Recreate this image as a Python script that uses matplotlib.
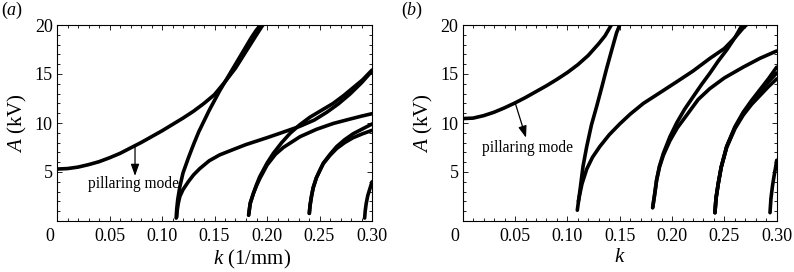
import matplotlib
matplotlib.use("Agg")
import matplotlib.pyplot as plt
import matplotlib.transforms as mt
from matplotlib.ticker import MultipleLocator, FixedLocator

plt.rcParams['font.family'] = ['Liberation Serif', 'DejaVu Serif']
plt.rcParams['mathtext.fontset'] = 'custom'
plt.rcParams['mathtext.rm'] = 'Liberation Serif'
plt.rcParams['mathtext.it'] = 'Liberation Serif:italic'

# ---------------- data: panel (a) ----------------
a_c1_k = [0, 0.01, 0.02, 0.03, 0.04, 0.05, 0.06, 0.07, 0.08, 0.09, 0.10, 0.11, 0.12, 0.13, 0.14, 0.15, 0.16, 0.17, 0.18, 0.19, 0.196]
a_c1_A = [5.3, 5.35, 5.5, 5.75, 6.05, 6.45, 6.9, 7.45, 8.0, 8.6, 9.2, 9.85, 10.5, 11.2, 12.0, 12.9, 14.2, 15.6, 17.3, 19.0, 20.0]
a_c2_k = [0.1135, 0.114, 0.115, 0.117, 0.12, 0.125, 0.13, 0.135, 0.14, 0.145, 0.15, 0.155, 0.16, 0.165, 0.17, 0.175, 0.18, 0.185, 0.19, 0.194]
a_c2_A = [0.3, 1.2, 2.2, 3.5, 4.9, 6.4, 7.8, 9.1, 10.2, 11.3, 12.3, 13.3, 14.2, 15.1, 16.0, 16.9, 17.8, 18.7, 19.5, 20.0]
a_c3_k = [0.114, 0.1145, 0.1155, 0.117, 0.12, 0.125, 0.13, 0.136, 0.145, 0.155, 0.168, 0.18, 0.2, 0.215, 0.231, 0.245, 0.257, 0.268, 0.279, 0.29, 0.3]
a_c3_A = [0.4, 1.1, 1.8, 2.5, 3.2, 4.0, 4.7, 5.35, 6.15, 6.75, 7.3, 7.8, 8.5, 9.05, 9.65, 10.3, 11.1, 11.95, 12.95, 14.1, 15.3]
a_c4a_k = [0.1825, 0.184, 0.187, 0.19, 0.193, 0.2, 0.206, 0.214, 0.222, 0.231, 0.241, 0.252, 0.263, 0.273, 0.282, 0.291, 0.3]
a_c4a_A = [0.6, 1.8, 2.8, 3.7, 4.5, 5.9, 6.9, 8.0, 8.95, 9.8, 10.6, 11.3, 12.0, 12.8, 13.6, 14.4, 15.4]
a_c4b_k = [0.1825, 0.184, 0.187, 0.19, 0.193, 0.2, 0.208, 0.2155, 0.2314, 0.247, 0.263, 0.279, 0.29, 0.3]
a_c4b_A = [0.6, 1.8, 2.8, 3.6, 4.3, 5.7, 6.8, 7.5, 8.6, 9.35, 9.95, 10.4, 10.7, 10.95]
a_c5a_k = [0.2403, 0.241, 0.2425, 0.244, 0.247, 0.2505, 0.2536, 0.26, 0.2664, 0.274, 0.282, 0.291, 0.3]
a_c5a_A = [0.78, 1.6, 2.6, 3.4, 4.4, 5.2, 5.9, 6.8, 7.6, 8.3, 8.9, 9.4, 9.9]
a_c5b_k = [0.2403, 0.241, 0.2425, 0.244, 0.247, 0.2505, 0.2536, 0.26, 0.2664, 0.274, 0.282, 0.291, 0.3]
a_c5b_A = [0.78, 1.6, 2.6, 3.4, 4.4, 5.2, 5.85, 6.7, 7.4, 8.0, 8.5, 8.9, 9.25]
a_c6_k = [0.293, 0.2935, 0.2945, 0.296, 0.298, 0.3]
a_c6_A = [0.3, 1.0, 1.8, 2.6, 3.3, 4.0]

# ---------------- data: panel (b) ----------------
b_c1_k = [0, 0.01, 0.02, 0.03, 0.04, 0.05, 0.06, 0.07, 0.08, 0.09, 0.1, 0.11, 0.12, 0.13, 0.136, 0.142]
b_c1_A = [10.45, 10.5, 10.75, 11.1, 11.55, 12.05, 12.6, 13.2, 13.8, 14.45, 15.15, 15.95, 16.9, 18.1, 18.9, 20.0]
b_c2_k = [0.1095, 0.111, 0.1125, 0.115, 0.1185, 0.123, 0.128, 0.133, 0.1376, 0.142, 0.147, 0.15]
b_c2_A = [1.1, 2.3, 3.5, 5.6, 7.6, 9.8, 11.7, 13.7, 15.6, 17.3, 19.2, 20.0]
b_c3_k = [0.1105, 0.112, 0.114, 0.1185, 0.124, 0.131, 0.14, 0.15, 0.16, 0.1726, 0.19, 0.2044, 0.22, 0.2363, 0.25, 0.26, 0.268, 0.271]
b_c3_A = [2.0, 2.8, 3.8, 5.3, 6.5, 7.6, 8.8, 9.9, 10.9, 12.0, 13.2, 14.2, 15.3, 16.6, 17.6, 18.7, 19.7, 20.0]
b_c4a_k = [0.1815, 0.1835, 0.1853, 0.188, 0.1917, 0.198, 0.2044, 0.212, 0.2203, 0.228, 0.2363, 0.244, 0.2522, 0.26, 0.267]
b_c4a_A = [1.36, 2.8, 4.2, 5.6, 6.9, 8.6, 10.0, 11.4, 12.7, 13.9, 15.1, 16.3, 17.45, 18.7, 20.0]
b_c4b_k = [0.1815, 0.1835, 0.1853, 0.188, 0.1917, 0.198, 0.205, 0.214, 0.225, 0.236, 0.25, 0.268, 0.284, 0.3]
b_c4b_A = [1.36, 2.8, 4.2, 5.5, 6.7, 8.2, 9.5, 10.8, 12.4, 13.5, 14.6, 15.7, 16.6, 17.35]
b_c5a_k = [0.241, 0.242, 0.2442, 0.247, 0.2522, 0.26, 0.268, 0.276, 0.284, 0.292, 0.3]
b_c5a_A = [0.85, 2.3, 3.85, 5.5, 7.6, 9.6, 11.1, 12.3, 13.4, 14.5, 15.7]
b_c5b_k = [0.241, 0.242, 0.2442, 0.247, 0.2522, 0.26, 0.268, 0.276, 0.284, 0.292, 0.3]
b_c5b_A = [0.85, 2.3, 3.85, 5.5, 7.6, 9.5, 11.0, 12.2, 13.2, 14.2, 15.1]
b_c5c_k = [0.241, 0.242, 0.2442, 0.247, 0.2522, 0.26, 0.268, 0.276, 0.284, 0.292, 0.3]
b_c5c_A = [0.85, 2.3, 3.85, 5.5, 7.5, 9.4, 10.8, 11.9, 12.8, 13.7, 14.5]
b_c6_k = [0.2936, 0.2945, 0.296, 0.2975, 0.299, 0.3]
b_c6_A = [0.85, 2.3, 3.6, 4.6, 5.5, 6.2]

x_ticks = [0, 0.05, 0.10, 0.15, 0.20, 0.25, 0.30]
x_tick_labels = ['0', '0.05', '0.10', '0.15', '0.20', '0.25', '0.30']
y_ticks = [5, 10, 15, 20]
y_tick_labels = ['5', '10', '15', '20']

panel_a = [(a_c1_k, a_c1_A), (a_c2_k, a_c2_A), (a_c3_k, a_c3_A), (a_c4a_k, a_c4a_A),
           (a_c4b_k, a_c4b_A), (a_c5a_k, a_c5a_A), (a_c5b_k, a_c5b_A), (a_c6_k, a_c6_A)]
panel_b = [(b_c1_k, b_c1_A), (b_c2_k, b_c2_A), (b_c3_k, b_c3_A), (b_c4a_k, b_c4a_A),
           (b_c4b_k, b_c4b_A), (b_c5a_k, b_c5a_A), (b_c5b_k, b_c5b_A), (b_c5c_k, b_c5c_A),
           (b_c6_k, b_c6_A)]

fig = plt.figure(figsize=(7.94, 2.72), dpi=100)
W, H = 794.0, 272.0
axa = fig.add_axes([57 / W, 51 / H, 315 / W, 196 / H])
axb = fig.add_axes([462.7 / W, 51 / H, 314 / W, 196 / H])

TICKFS = 13


def style(ax):
    ax.set_xlim(0, 0.30)
    ax.set_ylim(0, 20)
    ax.xaxis.set_major_locator(FixedLocator(x_ticks))
    ax.set_xticklabels(x_tick_labels)
    ax.yaxis.set_major_locator(FixedLocator(y_ticks))
    ax.set_yticklabels(y_tick_labels)
    ax.xaxis.set_minor_locator(MultipleLocator(0.01))
    ax.yaxis.set_minor_locator(MultipleLocator(1))
    ax.tick_params(which='both', direction='in', top=True, right=True,
                   labelsize=TICKFS, width=0.6, colors='black')
    ax.tick_params(which='major', length=3.5)
    ax.tick_params(which='minor', length=2)
    ax.tick_params(axis='x', pad=5)
    ax.tick_params(axis='y', pad=3)
    for s in ax.spines.values():
        s.set_linewidth(0.8)
    # the "0" label sits left of the frame corner
    lab0 = ax.get_xticklabels()[0]
    lab0.set_horizontalalignment('right')
    lab0.set_transform(lab0.get_transform() + mt.ScaledTranslation(-0.03, 0, fig.dpi_scale_trans))


for ax, curves in ((axa, panel_a), (axb, panel_b)):
    for k, A in curves:
        ax.plot(k, A, color='black', lw=2.6, solid_capstyle='round', solid_joinstyle='round')
    style(ax)

# labels
axa.set_ylabel(r'$A$ (kV)', fontsize=15, labelpad=4)
axb.set_ylabel(r'$A$ (kV)', fontsize=15, labelpad=4)
axa.set_xlabel(r'$k$ (1/mm)', fontsize=15)
axa.xaxis.set_label_coords((252 - 57) / 315, -0.14)
axb.set_xlabel(r'$k$', fontsize=15)
axb.xaxis.set_label_coords(0.5, -0.14)

# panel tags
fig.text(1 / W, 1 - 10 / H, r'($a$)', fontsize=13, va='center', ha='left')
fig.text(401 / W, 1 - 10 / H, r'($b$)', fontsize=13, va='center', ha='left')

# annotations
arrow = dict(arrowstyle='-|>,head_length=0.7,head_width=0.25', lw=0.9, color='black',
             shrinkA=0, shrinkB=0)
axa.annotate('', xy=(0.0743, 4.6), xytext=(0.0743, 7.76), arrowprops=arrow)
axa.text(0.0295, 3.8, 'pillaring mode', fontsize=11.2, ha='left', va='center')
axb.annotate('', xy=(0.0605, 8.5), xytext=(0.050, 12.1), arrowprops=arrow)
axb.text(0.0182, 7.4, 'pillaring mode', fontsize=11.2, ha='left', va='center')

fig.savefig('out.png', dpi=100)
